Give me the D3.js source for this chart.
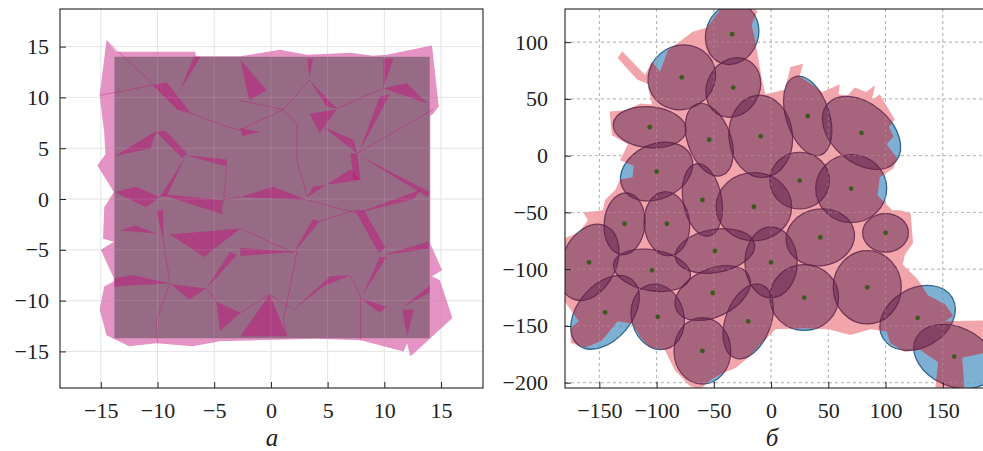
<!DOCTYPE html>
<html>
<head>
<meta charset="utf-8">
<script src="https://cdn.jsdelivr.net/npm/d3@7"></script>
<style>
  html, body { margin: 0; padding: 0; background: #fff; }
</style>
</head>
<body>
<svg id="fig" width="983" height="451"></svg>
<script>
// ---------- panel а : square domain and predicted cells ----------
var squareA = [[-13.8, -13.7], [14.0, 14.0]];
// union of the predicted cells
var hullA = [[-15.1,10.2],[-14.5,15.6],[-13.6,14.5],[-6.7,14.5],[-6.6,14.05],[-2.7,14.05],[0.8,14.7],[3.2,14.2],
  [5.2,14.3],[7.0,14.4],[9.0,14.1],[10.2,14.2],[14.2,15.1],[14.8,9.1],[14.3,8.4],[14.05,8.2],[14.05,-4.4],
  [15.1,-7.0],[14.2,-7.6],[14.9,-8.0],[16.0,-11.7],[12.3,-15.5],[12.0,-14.2],[11.7,-15.0],[7.9,-13.9],
  [4.0,-13.75],[-4.5,-14.0],[-6.9,-14.5],[-10.1,-14.2],[-12.5,-14.5],[-14.5,-13.4],[-15.1,-10.9],[-14.7,-8.6],
  [-13.85,-8.1],[-13.85,-7.8],[-15.0,-5.0],[-13.85,-4.2],[-14.8,-3.9],[-14.7,-0.8],[-13.85,0.7],[-15.3,3.3],
  [-14.6,4.4],[-14.7,6.5]];
// places where two neighbouring cells overlap
var overlapsA = [
  [[-10.4,11.2],[-9.2,11.5],[-7.0,8.4],[-8.3,8.8]],
  [[-6.8,14.0],[-6.2,14.0],[-8.0,10.7]],
  [[-13.8,4.2],[-10.1,6.7],[-10.6,5.0]],
  [[-10.1,6.6],[-9.3,6.7],[-7.4,4.5],[-7.8,4.0]],
  [[-7.5,4.3],[-3.9,3.9],[-3.9,3.2]],
  [[-7.6,4.0],[-9.8,0.2],[-9.2,0.3]],
  [[-13.8,0.7],[-11.9,1.2],[-9.8,0.2],[-11.0,-0.8]],
  [[-9.8,0.5],[-4.3,-0.1],[-4.3,-1.5]],
  [[-10.1,-1.1],[-9.5,-1.1],[-9.5,-4.0]],
  [[-13.3,-3.1],[-12.0,-2.6],[-10.1,-3.4]],
  [[-8.9,-3.5],[-2.7,-2.9],[-5.9,-5.7]],
  [[-13.8,-7.8],[-12.2,-7.5],[-8.9,-8.3],[-13.8,-8.6]],
  [[-8.8,-8.4],[-7.2,-9.9],[-5.7,-8.8]],
  [[-5.7,-8.8],[-3.6,-5.2],[-3.0,-5.5]],
  [[-4.8,-10.1],[-2.7,-11.2],[-4.5,-13.0]],
  [[-2.7,13.7],[-0.4,10.7],[-1.9,9.7]],
  [[3.2,13.8],[3.7,13.8],[3.4,11.9]],
  [[3.4,11.7],[5.8,8.9],[4.9,9.1]],
  [[3.4,8.4],[5.8,8.8],[4.3,6.5]],
  [[9.9,13.8],[10.8,13.8],[9.9,10.9]],
  [[9.9,10.9],[12.0,11.4],[13.8,9.4]],
  [[9.6,10.1],[10.5,10.3],[7.8,4.7]],
  [[4.6,7.1],[7.3,5.8],[7.6,4.5]],
  [[7.0,4.5],[7.6,4.5],[7.9,1.9],[7.3,1.9]],
  [[3.2,0.2],[7.0,2.9],[7.9,1.9],[3.7,1.2]],
  [[7.9,4.2],[14.0,0.7],[13.8,0.2]],
  [[-2.7,0.2],[0.2,1.2],[3.2,-0.1]],
  [[7.6,-1.4],[13.2,0.9],[12.6,0.0]],
  [[-2.7,-4.8],[2.3,-5.2],[-2.7,-5.6]],
  [[2.0,-5.3],[3.7,-2.0],[4.3,-2.2]],
  [[2.0,-10.9],[5.2,-7.6],[7.0,-7.5],[4.6,-8.6]],
  [[-2.7,-13.5],[-0.1,-9.4],[1.4,-13.5]],
  [[7.9,-9.8],[9.6,-11.2],[10.2,-10.6]],
  [[7.4,-1.1],[8.2,-1.1],[10.1,-4.8],[9.5,-5.3]],
  [[8.1,-9.4],[10.2,-5.7],[9.6,-5.7]],
  [[9.9,-5.5],[13.9,-4.2],[13.9,-4.9]],
  [[11.7,-10.6],[14.0,-8.5],[14.0,-9.2]],
  [[12.6,-10.9],[12.0,-13.5],[11.6,-10.9]],
  [[-2.7,7.0],[-1.0,6.6],[-2.5,6.2]]
];
// thin borders between cells
var seamsA = [
  [[-14.5,15.6],[-8.0,8.8]],
  [[-15.1,10.2],[-10.4,11.2]],
  [[-7.0,8.4],[-3.6,7.0],[-2.7,6.8],[1.1,8.8]],
  [[-2.7,9.7],[1.1,8.8],[3.4,11.7]],
  [[1.1,8.8],[2.3,7.4],[2.3,3.8],[3.2,0.2]],
  [[-3.9,3.2],[-4.2,-0.6]],
  [[-9.5,-4.0],[-8.9,-8.3],[-10.1,-11.9],[-10.0,-14.2]],
  [[5.8,8.9],[9.9,10.9]],
  [[7.6,4.5],[14.3,8.8]],
  [[-2.7,-2.9],[2.0,-5.3]],
  [[2.3,-5.2],[1.1,-11.9],[1.4,-13.5]],
  [[7.0,-7.5],[7.9,-9.6],[7.9,-13.9]],
  [[-5.7,-8.8],[-4.8,-10.1]],
  [[-0.1,-9.4],[2.0,-10.9]],
  [[3.2,-0.1],[7.6,-1.4]],
  [[-2.7,-11.2],[-0.1,-9.4]],
  [[-4.3,-0.1],[-2.7,0.2]],
  [[4.3,-2.2],[7.4,-1.1]]
];
var ticksA = [-15, -10, -5, 0, 5, 10, 15];

// ---------- panel б : ellipses and mask ----------
var ellX   = [-34, -78, -33, -106, -54, -9, 32, 79, -100, -60, -15, 25, 70, -128, -91, -49, 43, 100, -159, -104, -51, 0, -145, -99, -20, 29, 84, -60, 128, 160];
var ellY   = [107, 69, 60, 25, 14, 17, 35, 20, -14, -39, -45, -22, -29, -60, -60, -84, -72, -68, -94, -101, -121, -94, -138, -142, -146, -125, -116, -172, -143, -177];
var ellA   = [27, 30, 27, 32, 33, 36, 36, 39, 33, 32, 33, 26, 31, 27, 28, 35, 30, 20, 35, 34, 35, 31, 37, 29, 34, 30, 32, 29, 35, 37];
var ellB   = [23, 28, 23, 18, 19, 28, 19, 26, 24, 17, 30, 25, 30, 18, 20, 19, 25, 17, 24, 18, 21, 23, 24, 23, 20, 29, 30, 25, 26, 26];
var ellAng = [70, 30, 60, -5, -70, 95, -72, -40, 25, -80, 0, 0, 0, 85, 95, 10, 10, 0, 65, -10, 25, 90, 50, -75, 70, 0, 90, 90, 30, -25];
var maskB = [[-69,109],[-56,113],[-44,129],[-43,135],[-17,135],[-12,127],[-17,115],[-14,102],[-11,85],[-8,67],
  [-5,54],[12,58],[17,78],[28,81],[25,70],[45,56],[60,63],[59,54],[67,53],[73,60],[83,56],[91,62],[88,49],[95,54],
  [102,42],[108,32],[103,25],[107,17],[101,10],[110,-2],[107,-11],[95,-19],[93,-35],[106,-48],[113,-48],[122,-51],
  [124,-77],[117,-87],[115,-96],[128,-109],[137,-123],[152,-131],[159,-141],[152,-146],[190,-145],[190,-173],
  [167,-178],[169,-208],[143,-208],[146,-182],[130,-171],[117,-173],[104,-165],[101,-155],[87,-153],[69,-158],
  [50,-153],[30,-152],[4,-153],[-10,-167],[-20,-178],[-31,-187],[-43,-192],[-52,-197],[-62,-206],[-71,-203],
  [-84,-189],[-93,-171],[-106,-169],[-114,-160],[-121,-148],[-134,-146],[-148,-163],[-162,-169],[-175,-165],
  [-175,-152],[-168,-146],[-180,-129],[-184,-118],[-184,-74],[-168,-68],[-160,-57],[-164,-50],[-147,-48],
  [-145,-39],[-136,-30],[-132,-21],[-121,-19],[-120,-9],[-132,-4],[-125,10],[-139,18],[-141,39],[-127,40],
  [-114,46],[-104,45],[-107,58],[-107,63],[-117,67],[-134,86],[-130,92],[-110,71],[-104,83],[-97,74],[-90,93],[-75,104]];
var xticksB = [-150, -100, -50, 0, 50, 100, 150];
var yticksB = [-200, -150, -100, -50, 0, 50, 100];

var FONT = '"Liberation Serif", "DejaVu Serif", serif';
var fmt = function(d) { return d < 0 ? '\u2212' + Math.abs(d) : '' + d; };

var svg = d3.select('#fig');
var defs = svg.append('defs');

// scales
var xa = d3.scaleLinear().domain([-18.6, 18.7]).range([60, 483]);
var ya = d3.scaleLinear().domain([-18.6, 18.7]).range([388, 9]);
var xb = d3.scaleLinear().domain([-180, 186]).range([565, 984]);
var yb = d3.scaleLinear().domain([-204.7, 129.2]).range([388, 9]);

var lineA = d3.line().x(function(d) { return xa(d[0]); }).y(function(d) { return ya(d[1]); });
var lineB = d3.line().x(function(d) { return xb(d[0]); }).y(function(d) { return yb(d[1]); });

defs.append('clipPath').attr('id', 'clipA').append('rect')
  .attr('x', 60).attr('y', 9).attr('width', 423).attr('height', 379);
defs.append('clipPath').attr('id', 'clipB').append('rect')
  .attr('x', 565).attr('y', 9).attr('width', 419).attr('height', 379);
defs.append('clipPath').attr('id', 'clipMask').append('path')
  .attr('d', lineB(maskB) + 'Z');

// ===== panel а =====
var ga = svg.append('g').attr('clip-path', 'url(#clipA)');
ga.append('g').selectAll('line.v').data(ticksA).enter().append('line')
  .attr('x1', function(d) { return xa(d); }).attr('x2', function(d) { return xa(d); })
  .attr('y1', 9).attr('y2', 388).attr('stroke', '#e2e2e2').attr('stroke-width', 1);
ga.append('g').selectAll('line.h').data(ticksA).enter().append('line')
  .attr('y1', function(d) { return ya(d); }).attr('y2', function(d) { return ya(d); })
  .attr('x1', 60).attr('x2', 483).attr('stroke', '#e2e2e2').attr('stroke-width', 1);

ga.append('rect')
  .attr('x', xa(squareA[0][0])).attr('y', ya(squareA[1][1]))
  .attr('width', xa(squareA[1][0]) - xa(squareA[0][0]))
  .attr('height', ya(squareA[0][1]) - ya(squareA[1][1]))
  .attr('fill', '#71b68c');
ga.append('path').attr('d', lineA(hullA) + 'Z')
  .attr('fill', '#c50d7c').attr('fill-opacity', 0.45);
ga.append('g').selectAll('path').data(overlapsA).enter().append('path')
  .attr('d', function(d) { return lineA(d) + 'Z'; })
  .attr('fill', '#c50d7c').attr('fill-opacity', 0.45);
ga.append('g').selectAll('path').data(seamsA).enter().append('path')
  .attr('d', function(d) { return lineA(d); })
  .attr('fill', 'none').attr('stroke', '#c50d7c').attr('stroke-opacity', 0.4).attr('stroke-width', 0.9);
// faint grid over the shapes
ga.append('g').selectAll('line').data(ticksA).enter().append('line')
  .attr('x1', function(d) { return xa(d); }).attr('x2', function(d) { return xa(d); })
  .attr('y1', 9).attr('y2', 388).attr('stroke', '#ffffff').attr('stroke-opacity', 0.12);
ga.append('g').selectAll('line').data(ticksA).enter().append('line')
  .attr('y1', function(d) { return ya(d); }).attr('y2', function(d) { return ya(d); })
  .attr('x1', 60).attr('x2', 483).attr('stroke', '#ffffff').attr('stroke-opacity', 0.12);

// axes а
svg.append('g').attr('transform', 'translate(0,388)')
  .call(d3.axisBottom(xa).tickValues(ticksA).tickSizeInner(-6).tickSizeOuter(0).tickPadding(14).tickFormat(fmt))
  .call(function(g) { g.select('.domain').remove(); })
  .attr('font-family', FONT).attr('font-size', 22).attr('color', '#222');
svg.append('g').attr('transform', 'translate(60,0)')
  .call(d3.axisLeft(ya).tickValues(ticksA).tickSizeInner(-6).tickSizeOuter(0).tickPadding(11).tickFormat(fmt))
  .call(function(g) { g.select('.domain').remove(); })
  .attr('font-family', FONT).attr('font-size', 22).attr('color', '#222');
svg.append('rect').attr('x', 60).attr('y', 9).attr('width', 423).attr('height', 379)
  .attr('fill', 'none').attr('stroke', '#222').attr('stroke-width', 1.1);

// ===== panel б =====
var gb = svg.append('g').attr('clip-path', 'url(#clipB)');
gb.append('g').selectAll('line').data(xticksB).enter().append('line')
  .attr('x1', function(d) { return xb(d); }).attr('x2', function(d) { return xb(d); })
  .attr('y1', 9).attr('y2', 388).attr('stroke', '#aaaaaa').attr('stroke-dasharray', '3,3');
gb.append('g').selectAll('line').data(yticksB).enter().append('line')
  .attr('y1', function(d) { return yb(d); }).attr('y2', function(d) { return yb(d); })
  .attr('x1', 565).attr('x2', 984).attr('stroke', '#aaaaaa').attr('stroke-dasharray', '3,3');

var kx = xb(1) - xb(0), ky = yb(0) - yb(1);
function ellipseAttrs(sel) {
  sel.attr('transform', function(d, i) {
      return 'translate(' + xb(ellX[i]) + ',' + yb(ellY[i]) + ') rotate(' + (-ellAng[i]) + ')';
    })
    .attr('rx', function(d, i) { return ellA[i] * kx; })
    .attr('ry', function(d, i) { return ellB[i] * ky; });
}

gb.append('g').selectAll('ellipse').data(ellX).enter().append('ellipse')
  .call(ellipseAttrs)
  .attr('fill', '#1f77b4').attr('fill-opacity', 0.58)
  .attr('stroke', '#2f6690').attr('stroke-width', 1.3);
gb.append('path').attr('d', lineB(maskB) + 'Z')
  .attr('fill', '#f0959b').attr('fill-opacity', 0.85);
gb.append('g').attr('clip-path', 'url(#clipMask)')
  .selectAll('ellipse').data(ellX).enter().append('ellipse')
  .call(ellipseAttrs)
  .attr('fill', '#5a1a48').attr('fill-opacity', 0.42)
  .attr('stroke', '#5b2048').attr('stroke-opacity', 0.75).attr('stroke-width', 1.2);
gb.append('g').selectAll('line').data(xticksB).enter().append('line')
  .attr('x1', function(d) { return xb(d); }).attr('x2', function(d) { return xb(d); })
  .attr('y1', 9).attr('y2', 388).attr('stroke', '#cccccc').attr('stroke-opacity', 0.3).attr('stroke-dasharray', '3,3');
gb.append('g').selectAll('line').data(yticksB).enter().append('line')
  .attr('y1', function(d) { return yb(d); }).attr('y2', function(d) { return yb(d); })
  .attr('x1', 565).attr('x2', 984).attr('stroke', '#cccccc').attr('stroke-opacity', 0.3).attr('stroke-dasharray', '3,3');
gb.append('g').selectAll('circle').data(ellX).enter().append('circle')
  .attr('cx', function(d, i) { return xb(ellX[i]); })
  .attr('cy', function(d, i) { return yb(ellY[i]); })
  .attr('r', 2.4).attr('fill', '#3d5a1e');

// axes б
svg.append('g').attr('transform', 'translate(0,388)')
  .call(d3.axisBottom(xb).tickValues(xticksB).tickSizeInner(-6).tickSizeOuter(0).tickPadding(14).tickFormat(fmt))
  .call(function(g) { g.select('.domain').remove(); })
  .attr('font-family', FONT).attr('font-size', 22).attr('color', '#222');
svg.append('g').attr('transform', 'translate(565,0)')
  .call(d3.axisLeft(yb).tickValues(yticksB).tickSizeInner(-6).tickSizeOuter(0).tickPadding(17).tickFormat(fmt))
  .call(function(g) { g.select('.domain').remove(); })
  .attr('font-family', FONT).attr('font-size', 22).attr('color', '#222');
svg.append('rect').attr('x', 565).attr('y', 9).attr('width', 419).attr('height', 379)
  .attr('fill', 'none').attr('stroke', '#222').attr('stroke-width', 1.1);

// panel captions
svg.append('text').attr('x', 272).attr('y', 446).attr('text-anchor', 'middle')
  .attr('font-family', FONT).attr('font-style', 'italic').attr('font-size', 25).attr('fill', '#222')
  .text('\u0430');
svg.append('text').attr('x', 772).attr('y', 446).attr('text-anchor', 'middle')
  .attr('font-family', FONT).attr('font-style', 'italic').attr('font-size', 25).attr('fill', '#222')
  .text('\u0431');
</script>
</body>
</html>
